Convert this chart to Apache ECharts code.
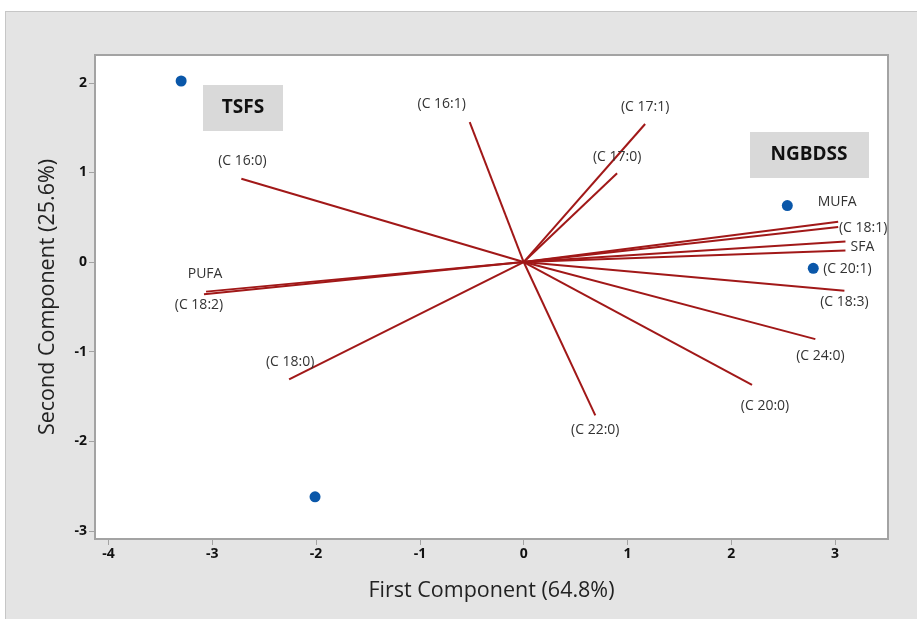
<!DOCTYPE html>
<html>
<head>
<meta charset="utf-8">
<script src="https://cdn.jsdelivr.net/npm/echarts@6/dist/echarts.min.js"></script>
<style>
  html, body { margin: 0; padding: 0; background: #ffffff; }
  #panel { position: absolute; left: 5px; top: 11px; width: 930px; height: 630px; background: #e4e4e4; border: 1px solid #c6c6c6; }
  #chart { position: absolute; left: 0; top: 0; width: 917px; height: 619px; }
</style>
</head>
<body>
<div id="panel"></div>
<div id="chart"></div>
<script>
// ---- data ----
const vectorNames = ['MUFA', '(C 18:1)', 'SFA', '(C 20:1)', '(C 18:3)', '(C 24:0)', '(C 20:0)', '(C 22:0)',
                     '(C 18:0)', '(C 18:2)', 'PUFA', '(C 16:0)', '(C 16:1)', '(C 17:1)', '(C 17:0)'];
const vectorX = [3.03, 3.03, 3.10, 3.10, 3.09, 2.81, 2.20, 0.69, -2.26, -3.08, -3.06, -2.72, -0.52, 1.17, 0.90];
const vectorY = [0.45, 0.39, 0.23, 0.13, -0.32, -0.86, -1.37, -1.71, -1.31, -0.36, -0.33, 0.93, 1.56, 1.54, 0.99];
const scoreX = [-3.30, -2.01, 2.54, 2.79];
const scoreY = [2.02, -2.62, 0.63, -0.07];
const xTicks = [-4, -3, -2, -1, 0, 1, 2, 3];
const yTicks = [-3, -2, -1, 0, 1, 2];
const groupLabels = ['TSFS', 'NGBDSS'];

// ---- label placement (pixels, relative to vector end) ----
const labelOffsets = [[-1, -20], [25, 1], [17, 6], [2, 19], [0, 11], [5, 17], [13, 21], [0, 15],
                      [1, -17], [-5, 11], [-1, -18], [1, -18], [-28, -18], [0, -17], [0, -16]];

const vecColor = '#a11818';
const axisGrey = '#a3a3a3';
const font = '"Open Sans", "Noto Sans", sans-serif';

const series = [];
vectorX.forEach((x, i) => {
  series.push({
    type: 'line', silent: true, symbol: 'none', z: 3,
    data: [[0, 0], [x, vectorY[i]]],
    lineStyle: { color: vecColor, width: 2 }
  });
});
series.push({
  type: 'scatter', silent: true, symbolSize: 0, z: 5,
  itemStyle: { opacity: 1 },
  data: vectorX.map((x, i) => ({
    name: vectorNames[i], value: [x, vectorY[i]],
    label: { offset: labelOffsets[i] }
  })),
  label: {
    show: true, position: 'inside', formatter: p => p.name,
    color: '#333333', fontFamily: font, fontSize: 14
  }
});
series.push({
  type: 'scatter', silent: true, z: 6,
  symbolSize: 11,
  itemStyle: { color: '#0a57a9', opacity: 1 },
  data: scoreX.map((x, i) => [x, scoreY[i]])
});

const chart = echarts.init(document.getElementById('chart'), null, { renderer: 'canvas' });
chart.setOption({
  animation: false,
  backgroundColor: 'transparent',
  grid: {
    left: 95, right: 29, top: 55, bottom: 80,
    show: true, backgroundColor: '#ffffff', borderColor: axisGrey, borderWidth: 2
  },
  xAxis: {
    type: 'value', min: -4.13, max: 3.51,
    splitLine: { show: false },
    axisLine: { show: true, onZero: false, lineStyle: { color: axisGrey, width: 2 } },
    axisTick: { show: true, length: 6, customValues: xTicks, lineStyle: { color: axisGrey, width: 1 } },
    axisLabel: { customValues: xTicks, color: '#111', fontFamily: font, fontSize: 14, fontWeight: 'bold', margin: 8 },
    name: 'First Component (64.8%)', nameLocation: 'middle', nameGap: 41,
    nameTextStyle: { color: '#222', fontFamily: font, fontSize: 21.5 }
  },
  yAxis: {
    type: 'value', min: -3.09, max: 2.31,
    splitLine: { show: false },
    axisLine: { show: true, onZero: false, lineStyle: { color: axisGrey, width: 2 } },
    axisTick: { show: true, length: 6, customValues: yTicks, lineStyle: { color: axisGrey, width: 1 } },
    axisLabel: { customValues: yTicks, color: '#111', fontFamily: font, fontSize: 14, fontWeight: 'bold', margin: 8 },
    name: 'Second Component (25.6%)', nameLocation: 'middle', nameGap: 36,
    nameTextStyle: { color: '#222', fontFamily: font, fontSize: 21.5 }
  },
  graphic: [
    { type: 'rect', left: 203, top: 85, shape: { width: 80, height: 46 }, style: { fill: '#d9d9d9' }, z: 10 },
    { type: 'text', x: 243, y: 108, style: { text: groupLabels[0], fill: '#111', font: 'bold 19px "Open Sans", sans-serif', align: 'center', verticalAlign: 'middle' }, z: 11 },
    { type: 'rect', left: 750, top: 132, shape: { width: 119, height: 46 }, style: { fill: '#d9d9d9' }, z: 10 },
    { type: 'text', x: 809, y: 155, style: { text: groupLabels[1], fill: '#111', font: 'bold 19px "Open Sans", sans-serif', align: 'center', verticalAlign: 'middle' }, z: 11 }
  ],
  series: series
});
</script>
</body>
</html>
